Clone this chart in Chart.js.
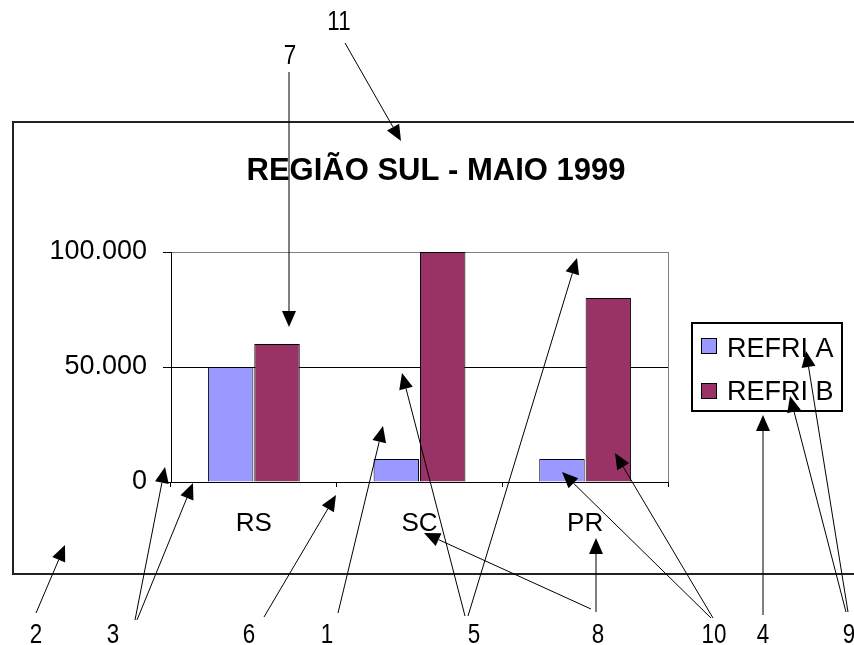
<!DOCTYPE html>
<html>
<head>
<meta charset="utf-8">
<title>REGIÃO SUL - MAIO 1999</title>
<script src="https://cdn.jsdelivr.net/npm/chart.js@4/dist/chart.umd.min.js"></script>
<style>
  html, body { margin: 0; padding: 0; background: #ffffff; }
  #wrap { width: 854px; height: 645px; }
</style>
</head>
<body>
<div id="wrap"><canvas id="c" width="854" height="645"></canvas></div>
<script>
// ---- data ----
const categories = ['RS', 'SC', 'PR'];
const seriesNames = ['REFRI A', 'REFRI B'];
const refriA = [50000, 10000, 10000];
const refriB = [60000, 100000, 80000];
const yTickValues = [0, 50000, 100000];
const chartTitle = 'REGIÃO SUL - MAIO 1999';

// numbered callouts and their leader arrows
const calloutLabels = [
  { text: '11', x: 339, y: 22 },
  { text: '7',  x: 290, y: 56 },
  { text: '2',  x: 36,  y: 635 },
  { text: '3',  x: 113, y: 635 },
  { text: '6',  x: 249, y: 635 },
  { text: '1',  x: 327, y: 635 },
  { text: '5',  x: 474, y: 635 },
  { text: '8',  x: 598, y: 635 },
  { text: '10', x: 714, y: 635 },
  { text: '4',  x: 763, y: 635 },
  { text: '9',  x: 849, y: 635 }
];
const calloutArrows = [
  [345, 43, 401, 141],   // 11
  [289, 72, 289, 327],   // 7
  [36, 613, 65, 545],    // 2
  [135, 620, 165, 467],  // 3
  [137, 620, 193, 483],  // 3
  [264, 617, 336, 495],  // 6
  [338, 613, 383, 426],  // 1
  [465, 616, 402, 373],  // 5
  [468, 616, 577, 258],  // 5
  [596, 612, 596, 538],  // 8
  [591, 609, 424, 533],  // 8
  [711, 618, 562, 472],  // 10
  [713, 618, 615, 453],  // 10
  [763, 615, 763, 415],  // 4
  [848, 612, 806, 351],  // 9
  [846, 612, 790, 396]   // 9
];

const FONT = "'Liberation Sans', Arial, Helvetica, sans-serif";
const colA = '#9999FF';
const colB = '#993366';

const fmtThousands = v => String(v).replace(/\B(?=(\d{3})+(?!\d))/g, '.');

function drawArrow(ctx, x1, y1, x2, y2) {
  const ang = Math.atan2(y2 - y1, x2 - x1);
  const L = 16, W = 7;
  const bx = x2 - L * Math.cos(ang), by = y2 - L * Math.sin(ang);
  ctx.beginPath();
  ctx.moveTo(x1, y1);
  ctx.lineTo(bx, by);
  ctx.stroke();
  ctx.beginPath();
  ctx.moveTo(x2, y2);
  ctx.lineTo(bx + W * Math.sin(ang), by - W * Math.cos(ang));
  ctx.lineTo(bx - W * Math.sin(ang), by + W * Math.cos(ang));
  ctx.closePath();
  ctx.fill();
}

// frame, title, plot-area edge, legend box and callouts
const decorations = {
  id: 'decorations',
  beforeDraw(chart) {
    const ctx = chart.ctx;
    ctx.save();
    ctx.fillStyle = '#ffffff';
    ctx.fillRect(0, 0, chart.width, chart.height);
    // chart frame (runs off the right edge)
    ctx.strokeStyle = '#222222';
    ctx.lineWidth = 2;
    ctx.strokeRect(13, 122, 900, 452);
    // title
    ctx.fillStyle = '#000000';
    ctx.font = 'bold 31px ' + FONT;
    ctx.textAlign = 'center';
    ctx.textBaseline = 'alphabetic';
    ctx.fillText(chartTitle, 436, 180);
    ctx.restore();
  },
  beforeDatasetsDraw(chart) {
    const ctx = chart.ctx;
    const a = chart.chartArea;
    ctx.save();
    ctx.strokeStyle = '#808080';
    ctx.lineWidth = 1;
    ctx.beginPath();
    ctx.moveTo(Math.round(a.right) + 0.5, a.top);
    ctx.lineTo(Math.round(a.right) + 0.5, a.bottom);
    ctx.stroke();
    ctx.restore();
  },
  afterDraw(chart) {
    const ctx = chart.ctx;
    ctx.save();
    // legend
    ctx.strokeStyle = '#000000';
    ctx.lineWidth = 2;
    ctx.strokeRect(692, 323, 150, 88);
    ctx.font = '27px ' + FONT;
    ctx.textAlign = 'left';
    ctx.textBaseline = 'alphabetic';
    const rows = [{ sy: 338, ty: 357 }, { sy: 383, ty: 400 }];
    chart.data.datasets.forEach((ds, i) => {
      const r = rows[i];
      ctx.fillStyle = ds.backgroundColor;
      ctx.fillRect(701, r.sy, 16, 16);
      ctx.lineWidth = 1;
      ctx.strokeStyle = '#000000';
      ctx.strokeRect(701.5, r.sy + 0.5, 15, 15);
      ctx.fillStyle = '#000000';
      ctx.fillText(ds.label, 727, r.ty);
    });
    // callout arrows
    ctx.strokeStyle = '#000000';
    ctx.fillStyle = '#000000';
    ctx.lineWidth = 1;
    calloutArrows.forEach(p => drawArrow(ctx, p[0], p[1], p[2], p[3]));
    // callout numbers (narrow face)
    ctx.font = '28px ' + FONT;
    ctx.textAlign = 'center';
    ctx.textBaseline = 'middle';
    calloutLabels.forEach(l => {
      ctx.save();
      ctx.translate(l.x, l.y);
      ctx.scale(0.8, 1);
      ctx.fillText(l.text, 0, 0);
      ctx.restore();
    });
    ctx.restore();
  }
};

new Chart(document.getElementById('c'), {
  type: 'bar',
  data: {
    labels: categories,
    datasets: [
      { label: seriesNames[0], data: refriA, backgroundColor: colA, borderColor: '#000000', borderWidth: 1 },
      { label: seriesNames[1], data: refriB, backgroundColor: colB, borderColor: '#000000', borderWidth: 1 }
    ]
  },
  options: {
    responsive: false,
    devicePixelRatio: 1,
    animation: false,
    layout: { padding: { top: 252, right: 186, bottom: 0, left: 0 } },
    datasets: { bar: { categoryPercentage: 0.56, barPercentage: 0.98 } },
    plugins: {
      legend: { display: false },
      title: { display: false },
      tooltip: { enabled: false }
    },
    scales: {
      x: {
        afterFit(scale) { scale.height = 163; },
        border: { display: true, color: '#000000', width: 1 },
        grid: { display: true, drawOnChartArea: false, drawTicks: true, tickLength: 5, offset: true, color: '#000000' },
        ticks: { color: '#000000', font: { family: FONT, size: 26 }, padding: 21, maxRotation: 0 }
      },
      y: {
        min: 0,
        max: 100000,
        afterFit(scale) { scale.width = 171; },
        afterBuildTicks(scale) { scale.ticks = yTickValues.map(v => ({ value: v })); },
        border: { display: true, color: '#000000', width: 1 },
        grid: {
          drawTicks: true,
          tickLength: 8,
          tickColor: '#000000',
          color: ctx => (ctx.tick && ctx.tick.value === 100000 ? '#808080' : '#000000')
        },
        ticks: {
          color: '#000000',
          font: { family: FONT, size: 27 },
          padding: 16,
          callback: v => fmtThousands(v)
        }
      }
    }
  },
  plugins: [decorations]
});
</script>
</body>
</html>
